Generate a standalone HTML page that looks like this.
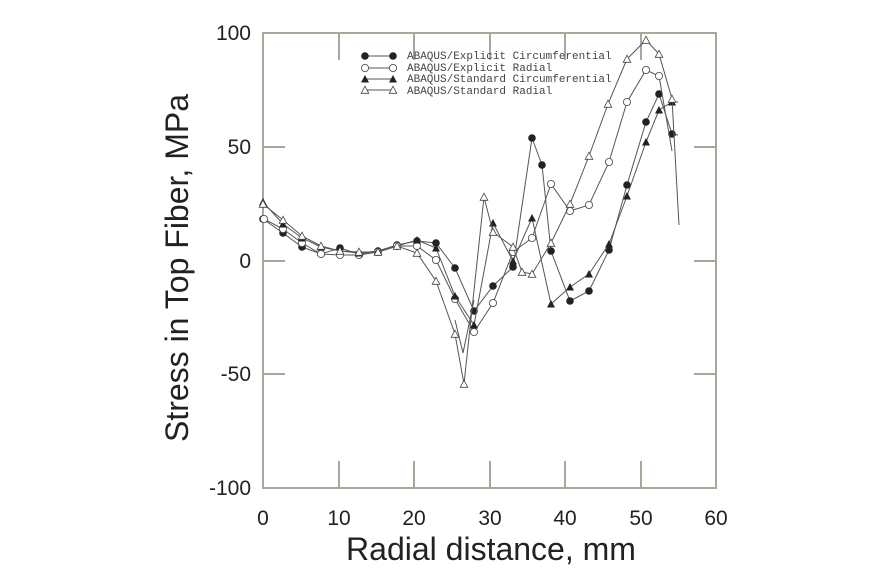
<!DOCTYPE html>
<html><head><meta charset="utf-8"><style>
body{margin:0;background:#fff;}
svg{display:block;font-family:"Liberation Sans",sans-serif;}
</style></head><body>
<svg width="894" height="585" viewBox="0 0 894 585">
<defs>
<marker id="fc" markerWidth="10" markerHeight="10" refX="5" refY="5" markerUnits="userSpaceOnUse"><circle cx="5" cy="5" r="3.8" fill="#222"/></marker>
<marker id="oc" markerWidth="10" markerHeight="10" refX="5" refY="5" markerUnits="userSpaceOnUse"><circle cx="5" cy="5" r="3.6" fill="#fff" stroke="#444" stroke-width="0.8"/></marker>
<marker id="ft" markerWidth="10" markerHeight="10" refX="5" refY="5" markerUnits="userSpaceOnUse"><polygon points="5,1 9,8.5 1,8.5" fill="#222"/></marker>
<marker id="ot" markerWidth="10" markerHeight="10" refX="5" refY="5" markerUnits="userSpaceOnUse"><polygon points="5,1.2 8.8,8.3 1.2,8.3" fill="#fff" stroke="#444" stroke-width="0.8"/></marker>
</defs>
<g stroke="#aaa79a" stroke-width="2" fill="none">
<rect x="263" y="33" width="453" height="455"/>
<path d="M339,33v27M414,33v27M490,33v27M565,33v27M641,33v27M339,488v-27M414,488v-27M490,488v-27M565,488v-27M641,488v-27M263,147h22M263,261h22M263,374h22M716,147h-22M716,261h-22M716,374h-22"/>
</g>
<g fill="none" stroke="#555" stroke-width="1">
<polyline marker-start="url(#fc)" marker-mid="url(#fc)" points="263,219 283,233 302,247 321,254 340,248 359,254 378,251 397,245 417,241 436,243 455,268 474,311 493,286 513,267 532,138 542,165 551,251 570,301 589,291 609,250 627,185 646,122 659,94 672,134 678,135"/>
<polyline marker-start="url(#oc)" marker-mid="url(#oc)" points="264,219 283,229 302,243 321,254 340,255 359,255 378,252 397,246 417,246 436,260 455,299 474,332 493,303 513,252 532,238 551,184 570,211 589,205 609,162 627,102 646,70 659,76 672,151"/>
<polyline marker-start="url(#ft)" marker-mid="url(#ft)" points="263,202 283,224 302,238 321,247 340,251 359,253 378,251 397,246 417,240 436,248 455,296 474,325 493,223 513,261 532,218 551,304 570,287 589,274 609,244 627,196 646,142 659,110 672,102 678,102"/>
<polyline marker-start="url(#ot)" marker-mid="url(#ot)" points="263,204 283,220 302,236 321,246 340,251 359,252 378,252 397,246 417,253 436,281 455,334 464,384 484,197 493,232 513,247 522,272 532,274 551,243 570,204 589,156 608,104 627,59 646,40 659,54 672,99 679,225"/>
<polyline points="455,320 463,353 474,300"/>
</g>
<g font-family="'Liberation Mono',monospace" font-size="11" fill="#444">
<text x="407" y="59">ABAQUS/Explicit Circumferential</text>
<text x="407" y="71">ABAQUS/Explicit Radial</text>
<text x="407" y="82">ABAQUS/Standard Circumferential</text>
<text x="407" y="94">ABAQUS/Standard Radial</text>
</g>
<g stroke="#555" stroke-width="1">
<line x1="365" y1="56" x2="393" y2="56" marker-start="url(#fc)" marker-end="url(#fc)"/>
<line x1="365" y1="68" x2="393" y2="68" marker-start="url(#oc)" marker-end="url(#oc)"/>
<line x1="365" y1="79" x2="393" y2="79" marker-start="url(#ft)" marker-end="url(#ft)"/>
<line x1="365" y1="90" x2="393" y2="90" marker-start="url(#ot)" marker-end="url(#ot)"/>
</g>
<g font-size="21" fill="#222">
<g text-anchor="end">
<text x="251" y="40">100</text>
<text x="251" y="154">50</text>
<text x="251" y="268">0</text>
<text x="251" y="381">-50</text>
<text x="251" y="495">-100</text>
</g>
<g text-anchor="middle">
<text x="263" y="525">0</text>
<text x="339" y="525">10</text>
<text x="414" y="525">20</text>
<text x="490" y="525">30</text>
<text x="565" y="525">40</text>
<text x="641" y="525">50</text>
<text x="716" y="525">60</text>
</g>
</g>
<text x="491" y="560" font-size="32" fill="#222" text-anchor="middle">Radial distance, mm</text>
<text transform="translate(188,268) rotate(-90)" font-size="32" fill="#222" text-anchor="middle">Stress in Top Fiber, MPa</text>
</svg>
</body></html>
